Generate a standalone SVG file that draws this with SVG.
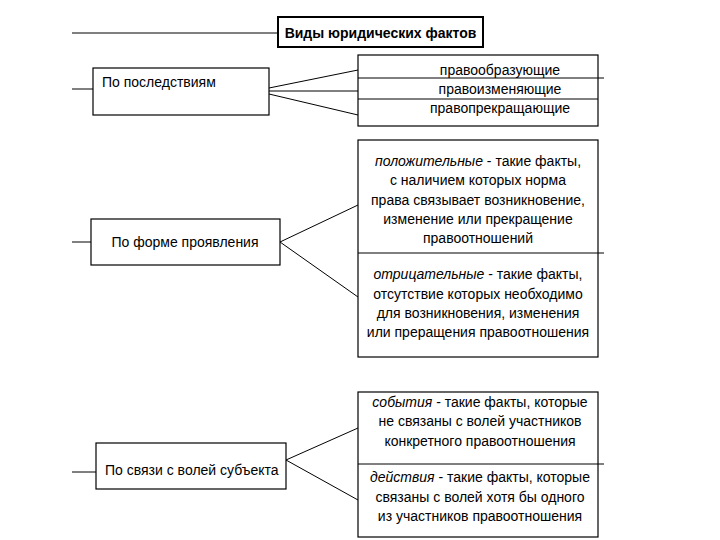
<svg xmlns="http://www.w3.org/2000/svg" width="720" height="540" viewBox="0 0 720 540">
<style>
.box{fill:#fff;stroke:#000;stroke-width:1.2}
.ln{stroke:#000;stroke-width:1;fill:none}
text{font-family:"Liberation Sans",Arial,sans-serif;font-size:14px;fill:#000}
.c{text-anchor:middle}
.i{font-style:italic}
</style>
<rect width="720" height="540" fill="#fff"/>
<g id="connectors">
<line class="ln" x1="72" y1="33" x2="278" y2="33"/>
<line class="ln" x1="72" y1="89" x2="93" y2="89"/>
<line class="ln" x1="72" y1="242" x2="91" y2="242" stroke-width="2"/>
<line class="ln" x1="72" y1="472" x2="96" y2="472"/>
<line class="ln" x1="269" y1="88" x2="358" y2="70"/>
<line class="ln" x1="269" y1="91" x2="358" y2="91"/>
<line class="ln" x1="269" y1="94" x2="358" y2="115"/>
<line class="ln" x1="280" y1="242" x2="358" y2="205"/>
<line class="ln" x1="280" y1="242" x2="358" y2="297"/>
<line class="ln" x1="286" y1="460" x2="358" y2="428"/>
<line class="ln" x1="286" y1="460" x2="358" y2="500"/>
</g>
<g id="title">
<rect x="278" y="17" width="205" height="30" fill="#fff" stroke="#000" stroke-width="2"/>
<text x="380.5" y="38" class="c" font-weight="bold">Виды юридических фактов</text>
</g>
<g id="n-posledstviya">
<rect class="box" x="93" y="68" width="176" height="47"/>
<text x="102" y="87">По последствиям</text>
</g>
<g id="n-posledstviya-types">
<rect class="box" x="358" y="55" width="240" height="71"/>
<line class="ln" x1="358" y1="78" x2="604" y2="78"/>
<line class="ln" x1="358" y1="99" x2="598" y2="99"/>
<text x="500" y="75" class="c">правообразующие</text>
<text x="500" y="94" class="c">правоизменяющие</text>
<text x="500" y="113" class="c">правопрекращающие</text>
</g>
<g id="n-forma">
<rect class="box" x="91" y="219" width="189" height="46"/>
<text x="185" y="247" class="c">По форме проявления</text>
</g>
<g id="n-forma-types">
<rect class="box" x="358" y="140" width="240" height="217"/>
<line class="ln" x1="358" y1="253" x2="604" y2="253"/>
<text x="478" y="166" class="c"><tspan class="i">положительные</tspan> - такие факты,</text>
<text x="478" y="185" class="c">с наличием которых норма</text>
<text x="478" y="205" class="c">права связывает возникновение,</text>
<text x="478" y="224" class="c">изменение или прекращение</text>
<text x="478" y="243" class="c">правоотношений</text>
<text x="478" y="279" class="c"><tspan class="i">отрицательные</tspan> - такие факты,</text>
<text x="478" y="299" class="c">отсутствие которых необходимо</text>
<text x="478" y="318" class="c">для возникновения, изменения</text>
<text x="478" y="337" class="c">или преращения правоотношения</text>
</g>
<g id="n-volya">
<rect class="box" x="96" y="443" width="190" height="46"/>
<text x="105" y="475">По связи с волей субъекта</text>
</g>
<g id="n-volya-types">
<rect class="box" x="358" y="392" width="240" height="145"/>
<line class="ln" x1="358" y1="464" x2="604" y2="464"/>
<text x="480" y="407" class="c"><tspan class="i">события</tspan> - такие факты, которые</text>
<text x="480" y="426" class="c">не связаны с волей участников</text>
<text x="480" y="446" class="c">конкретного правоотношения</text>
<text x="480" y="482" class="c"><tspan class="i">действия</tspan> - такие факты, которые</text>
<text x="480" y="502" class="c">связаны с волей хотя бы одного</text>
<text x="480" y="521" class="c">из участников правоотношения</text>
</g>
</svg>
